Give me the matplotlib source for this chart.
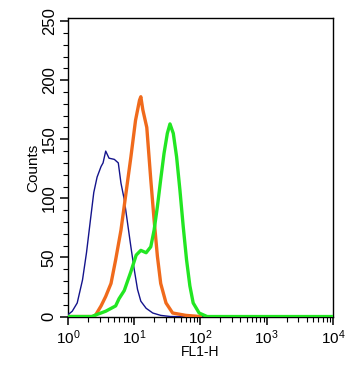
import numpy as np
import matplotlib
matplotlib.use("Agg")
import matplotlib.pyplot as plt
import matplotlib.ticker as ticker

plt.rcParams["font.family"] = ["Liberation Sans", "DejaVu Sans"]
plt.rcParams["mathtext.fontset"] = "custom"
plt.rcParams["mathtext.rm"] = "Liberation Sans"

# histogram outlines, channel position given as log10(FL1-H)
blue_log = [0.0, 0.065, 0.14, 0.22, 0.28, 0.34, 0.39, 0.44, 0.50, 0.53, 0.57,
            0.62, 0.70, 0.76, 0.80, 0.85, 0.90, 0.95, 1.00, 1.05, 1.10, 1.18,
            1.28, 1.40, 1.55, 4.0]
blue_cnt = [1.5, 4.5, 11.5, 31, 54, 82, 105, 118, 127, 130, 140,
            134, 133, 130, 113, 99, 79, 59, 40, 23, 13, 7,
            3, 1, 0, 0]

orange_log = [0.0, 0.38, 0.42, 0.50, 0.57, 0.65, 0.72, 0.80, 0.87, 0.95, 1.02,
              1.08, 1.10, 1.13, 1.19, 1.25, 1.30, 1.35, 1.40, 1.48, 1.58, 1.78,
              2.0]
orange_cnt = [0, 0, 1.5, 9, 17, 28, 48, 73, 102, 135, 166,
              183, 186, 175, 160, 116, 82, 51, 28, 11.5, 3, 1,
              0]

green_log = [0.0, 0.36, 0.45, 0.57, 0.72, 0.77, 0.85, 0.95, 1.03, 1.10, 1.18,
             1.25, 1.30, 1.35, 1.40, 1.45, 1.50, 1.54, 1.59, 1.64, 1.69, 1.74,
             1.79, 1.84, 1.89, 1.98, 2.1, 4.0]
green_cnt = [0, 0, 2, 4.5, 9, 15, 22, 38, 52, 56, 54,
             59, 73, 93, 116, 138, 155, 163, 155, 135, 107, 76,
             48, 26, 11.5, 3, 0, 0]

fig = plt.figure(figsize=(3.52, 3.78), dpi=100)
ax = fig.add_axes([0.193, 0.161, 0.753, 0.791])

ax.plot(10 ** np.array(blue_log), blue_cnt, color="#14148c", lw=1.0, zorder=3)
ax.plot(10 ** np.array(orange_log), orange_cnt, color="#f06a1c", lw=2.4, zorder=4)
ax.plot(10 ** np.array(green_log), green_cnt, color="#22e622", lw=2.4, zorder=5)

ax.set_xscale("log")
ax.set_xlim(1, 1e4)
ax.set_ylim(-0.5, 252.5)

ax.set_xticks([1, 10, 100, 1000, 10000])
ax.set_xticklabels([r"$\mathregular{10^{%d}}$" % i for i in range(5)], fontsize=11)
ax.xaxis.set_minor_locator(ticker.LogLocator(base=10, subs=np.arange(2, 10), numticks=20))
ax.xaxis.set_minor_formatter(ticker.NullFormatter())

ax.set_yticks([0, 50, 100, 150, 200, 250])
ax.set_yticklabels(["0", "50", "100", "150", "200", "250"], rotation=90,
                   va="center", fontsize=12)
ax.yaxis.set_minor_locator(ticker.MultipleLocator(10))

ax.tick_params(which="major", length=6, width=1.1, direction="out", pad=2)
ax.tick_params(which="minor", length=3.5, width=0.8, direction="out")
ax.tick_params(axis="x", which="both", top=False)
ax.tick_params(axis="y", which="both", right=False)

for s in ax.spines.values():
    s.set_linewidth(1.0)

ax.set_xlabel("FL1-H", fontsize=10, labelpad=-1)
ax.set_ylabel("Counts", fontsize=11, labelpad=1)

fig.savefig("out.png", dpi=100)
